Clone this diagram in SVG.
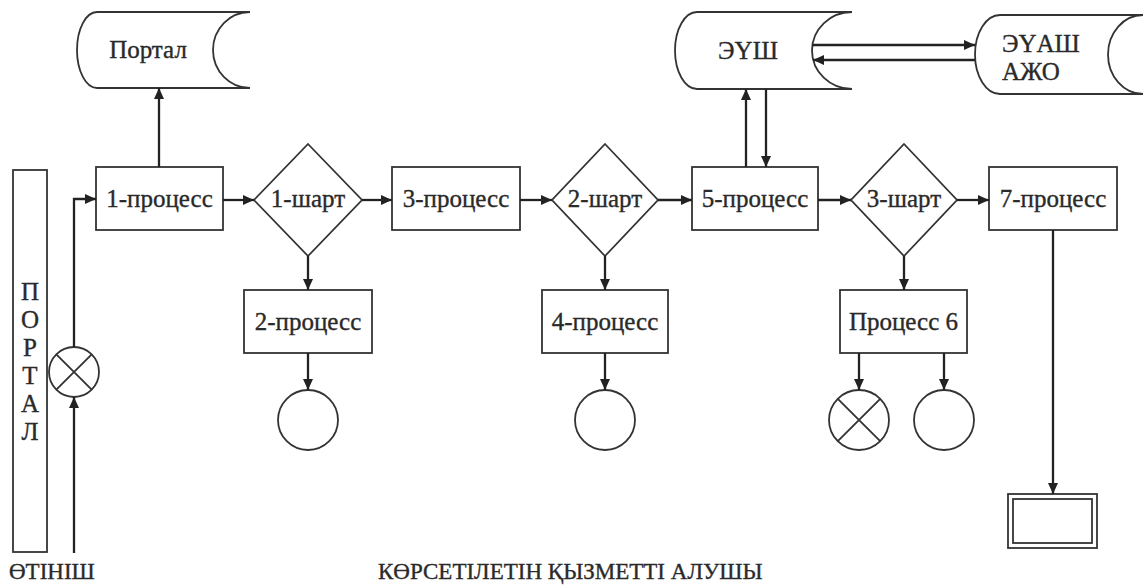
<svg xmlns="http://www.w3.org/2000/svg" width="1143" height="588" viewBox="0 0 1143 588">
<style>
.sh{fill:#fff;stroke:#333;stroke-width:1.8}
.ln{fill:none;stroke:#222;stroke-width:2.3}
.tx{font-family:"Liberation Serif","Times New Roman",serif;font-size:25px;fill:#2a2a2a;stroke:#2a2a2a;stroke-width:0.35;text-anchor:middle}
.tl{font-family:"Liberation Serif","Times New Roman",serif;font-size:25px;fill:#2a2a2a;stroke:#2a2a2a;stroke-width:0.35}
.bt{font-family:"Liberation Serif","Times New Roman",serif;font-size:23px;fill:#2a2a2a;stroke:#2a2a2a;stroke-width:0.35}
</style>
<defs>
<marker id="ah" markerUnits="userSpaceOnUse" markerWidth="11" markerHeight="10" refX="11" refY="5" orient="auto">
<path d="M0,0 L11,5 L0,10 z" fill="#222"/>
</marker>
</defs>
<rect width="1143" height="588" fill="#fff"/>

<g id="portal-lane">
<rect class="sh" x="13" y="170" width="34" height="382"/>
<text class="tx" font-size="24" x="30" y="300">П</text>
<text class="tx" font-size="24" x="30" y="328">О</text>
<text class="tx" font-size="24" x="30" y="356">Р</text>
<text class="tx" font-size="24" x="30" y="384">Т</text>
<text class="tx" font-size="24" x="30" y="412">А</text>
<text class="tx" font-size="24" x="30" y="440">Л</text>
</g>

<g id="portal">
<path class="sh" d="M250,12 L97,12 A20,38 0 0 0 97,88 L250,88 A37,38 0 0 1 250,12 Z"/>
<text class="tx" x="148" y="58">Портал</text>
</g>

<g id="eush">
<path class="sh" d="M852,12 L697,12 A22,38.5 0 0 0 697,89 L852,89 A40,38.5 0 0 1 852,12 Z"/>
<text class="tx" x="748" y="59">ЭҮШ</text>
</g>

<g id="euash">
<path class="sh" d="M1143,15 L1000,15 A25,39.5 0 0 0 1000,94 L1143,94 A35,39.5 0 0 1 1143,15 Z"/>
<text class="tl" x="1002" y="52">ЭҮАШ</text>
<text class="tl" x="1002" y="80">АЖО</text>
</g>

<g id="start-circle">
<circle class="sh" cx="74" cy="372" r="25"/>
<path class="sh" d="M56.3,354.3 L91.7,389.7 M91.7,354.3 L56.3,389.7"/>
</g>

<g id="p1"><rect class="sh" x="96" y="167" width="127" height="63"/><text class="tx" x="159.5" y="207">1-процесс</text></g>
<g id="c1"><path class="sh" d="M308,144 L362,200 L308,256 L254,200 Z"/><text class="tx" x="308" y="207">1-шарт</text></g>
<g id="p3"><rect class="sh" x="392" y="167" width="128" height="63"/><text class="tx" x="456" y="207">3-процесс</text></g>
<g id="c2"><path class="sh" d="M605,144 L658,200 L605,256 L552,200 Z"/><text class="tx" x="605" y="207">2-шарт</text></g>
<g id="p5"><rect class="sh" x="692" y="167" width="126" height="63"/><text class="tx" x="755" y="207">5-процесс</text></g>
<g id="c3"><path class="sh" d="M904,144 L957,200 L904,256 L851,200 Z"/><text class="tx" x="904" y="207">3-шарт</text></g>
<g id="p7"><rect class="sh" x="989" y="167" width="128" height="63"/><text class="tx" x="1053" y="207">7-процесс</text></g>

<g id="p2"><rect class="sh" x="244" y="290" width="128" height="63"/><text class="tx" x="308" y="330">2-процесс</text></g>
<g id="p4"><rect class="sh" x="542" y="290" width="126" height="63"/><text class="tx" x="605" y="330">4-процесс</text></g>
<g id="p6"><rect class="sh" x="840" y="290" width="127" height="63"/><text class="tx" x="903.5" y="330">Процесс 6</text></g>

<g id="end2"><circle class="sh" cx="308" cy="420" r="30"/></g>
<g id="end4"><circle class="sh" cx="605" cy="420" r="30"/></g>
<g id="end6x"><circle class="sh" cx="859" cy="420" r="30"/><path class="sh" d="M837.8,398.8 L880.2,441.2 M880.2,398.8 L837.8,441.2"/></g>
<g id="end6"><circle class="sh" cx="944" cy="420" r="30"/></g>

<g id="result">
<rect class="sh" x="1008" y="494" width="89" height="54"/>
<rect class="sh" x="1013" y="499" width="79" height="44"/>
</g>

<g id="connectors">
<path class="ln" d="M74,553 L74,397" marker-end="url(#ah)"/>
<path class="ln" d="M74,347 L74,199 L96,199" marker-end="url(#ah)"/>
<path class="ln" d="M159,167 L159,88" marker-end="url(#ah)"/>
<path class="ln" d="M223,200 L254,200" marker-end="url(#ah)"/>
<path class="ln" d="M362,200 L392,200" marker-end="url(#ah)"/>
<path class="ln" d="M520,200 L552,200" marker-end="url(#ah)"/>
<path class="ln" d="M658,200 L692,200" marker-end="url(#ah)"/>
<path class="ln" d="M818,200 L851,200" marker-end="url(#ah)"/>
<path class="ln" d="M957,200 L989,200" marker-end="url(#ah)"/>
<path class="ln" d="M308,256 L308,290" marker-end="url(#ah)"/>
<path class="ln" d="M605,256 L605,290" marker-end="url(#ah)"/>
<path class="ln" d="M904,256 L904,290" marker-end="url(#ah)"/>
<path class="ln" d="M308,353 L308,390" marker-end="url(#ah)"/>
<path class="ln" d="M605,353 L605,390" marker-end="url(#ah)"/>
<path class="ln" d="M859,353 L859,390" marker-end="url(#ah)"/>
<path class="ln" d="M944,353 L944,390" marker-end="url(#ah)"/>
<path class="ln" d="M746,167 L746,89" marker-end="url(#ah)"/>
<path class="ln" d="M766,89 L766,167" marker-end="url(#ah)"/>
<path class="ln" d="M813,45 L975,45" marker-end="url(#ah)"/>
<path class="ln" d="M975,60 L813,60" marker-end="url(#ah)"/>
<path class="ln" d="M1053,230 L1053,494" marker-end="url(#ah)"/>
</g>

<text class="bt" font-size="25" x="9" y="579">ӨТІНІШ</text>
<text class="bt" x="378" y="579">КӨРСЕТІЛЕТІН ҚЫЗМЕТТІ АЛУШЫ</text>
</svg>
